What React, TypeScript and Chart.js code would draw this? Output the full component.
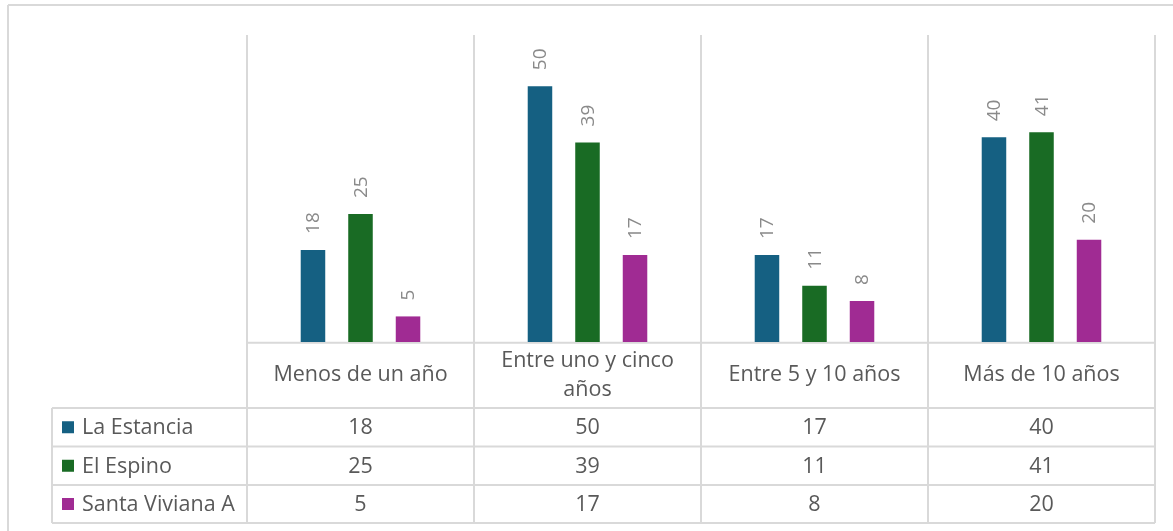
import React, { useEffect, useRef } from "react";
import { Chart, registerables } from "chart.js";

Chart.register(...registerables);

const categories = ["Menos de un año", "Entre uno y cinco años", "Entre 5 y 10 años", "Más de 10 años"];
const seriesNames = ["La Estancia", "El Espino", "Santa Viviana A"];
const laEstancia = [18, 50, 17, 40];
const elEspino = [25, 39, 11, 41];
const santaViviana = [5, 17, 8, 20];
const seriesColors = ["#156082", "#196B24", "#A02B93"];
const yMin = 0;
const yMax = 60;

const W = 1173;
const H = 531;
const FONT = "'Open Sans', 'Noto Sans', sans-serif";
const GRID = "#d9d9d9";
const TEXT = "#595959";
const LABEL = "#8a8a8a";

// table layout (pixels)
const headerBottom = 408;
const rowBottoms = [446.5, 485, 523];
const legendLeft = 52;

function wrapText(ctx: CanvasRenderingContext2D, text: string, maxWidth: number): string[] {
  const words = text.split(" ");
  const lines: string[] = [];
  let cur = "";
  for (const w of words) {
    const test = cur ? cur + " " + w : w;
    if (ctx.measureText(test).width > maxWidth && cur) {
      lines.push(cur);
      cur = w;
    } else {
      cur = test;
    }
  }
  if (cur) lines.push(cur);
  return lines;
}

const tablePlugin = {
  id: "tablePlugin",
  beforeDatasetsDraw(chart: any) {
    const ctx: CanvasRenderingContext2D = chart.ctx;
    const area = chart.chartArea;
    const xs = chart.scales.x;
    const n = categories.length;
    const colW = (area.right - area.left) / n;
    const tableBottom = rowBottoms[rowBottoms.length - 1];
    ctx.save();
    ctx.strokeStyle = GRID;
    ctx.lineWidth = 2;
    // outer frame
    ctx.beginPath();
    ctx.moveTo(8, 5);
    ctx.lineTo(W, 5);
    ctx.moveTo(8, 5);
    ctx.lineTo(8, H);
    ctx.stroke();
    // vertical lines at category boundaries
    ctx.beginPath();
    for (let i = 0; i <= n; i++) {
      const x = i < n ? xs.getPixelForValue(i) - colW / 2 : xs.getPixelForValue(n - 1) + colW / 2;
      ctx.moveTo(x, area.top);
      ctx.lineTo(x, tableBottom);
    }
    // legend column left edge
    ctx.moveTo(legendLeft, headerBottom);
    ctx.lineTo(legendLeft, tableBottom);
    // horizontal lines
    ctx.moveTo(area.left, area.bottom + 0.7);
    ctx.lineTo(area.right, area.bottom + 0.7);
    for (const y of [headerBottom, ...rowBottoms]) {
      ctx.moveTo(legendLeft, y);
      ctx.lineTo(area.right, y);
    }
    ctx.stroke();

    // header labels
    ctx.fillStyle = TEXT;
    ctx.font = `21.5px ${FONT}`;
    ctx.textAlign = "center";
    ctx.textBaseline = "middle";
    const headerTop = area.bottom;
    const headerMid = (headerTop + headerBottom) / 2;
    const lineH = 29;
    categories.forEach((c, i) => {
      const cx = xs.getPixelForValue(i);
      const lines = wrapText(ctx, c, colW - 40);
      const startY = headerMid - ((lines.length - 1) * lineH) / 2;
      lines.forEach((l, k) => ctx.fillText(l, cx, startY + k * lineH));
    });

    // data rows
    const tops = [headerBottom, ...rowBottoms];
    chart.data.datasets.forEach((ds: any, r: number) => {
      const cy = (tops[r] + tops[r + 1]) / 2;
      ctx.textAlign = "center";
      ctx.fillStyle = TEXT;
      ds.data.forEach((v: number, i: number) => {
        ctx.fillText(String(v), xs.getPixelForValue(i), cy + 1);
      });
      // legend key
      ctx.fillStyle = ds.backgroundColor;
      ctx.fillRect(62, cy - 6, 12, 12);
      ctx.fillStyle = TEXT;
      ctx.textAlign = "left";
      ctx.fillText(ds.label, 82, cy + 1);
    });
    ctx.restore();
  },
  afterDatasetsDraw(chart: any) {
    const ctx: CanvasRenderingContext2D = chart.ctx;
    ctx.save();
    ctx.fillStyle = LABEL;
    ctx.font = `19px ${FONT}`;
    ctx.textAlign = "left";
    ctx.textBaseline = "middle";
    chart.data.datasets.forEach((ds: any, d: number) => {
      const meta = chart.getDatasetMeta(d);
      meta.data.forEach((bar: any, i: number) => {
        ctx.save();
        ctx.translate(bar.x + 1, bar.y - 16);
        ctx.rotate(-Math.PI / 2);
        ctx.fillText(String(ds.data[i]), 0, 0);
        ctx.restore();
      });
    });
    ctx.restore();
  },
};

export default function App() {
  const ref = useRef<HTMLCanvasElement | null>(null);
  useEffect(() => {
    if (!ref.current) return;
    const values = [laEstancia, elEspino, santaViviana];
    const chart = new Chart(ref.current, {
      type: "bar",
      data: {
        labels: categories,
        datasets: seriesNames.map((name, i) => ({
          label: name,
          data: values[i],
          backgroundColor: seriesColors[i],
          borderWidth: 0,
          categoryPercentage: 0.628,
          barPercentage: 0.516,
        })),
      },
      options: {
        responsive: false,
        animation: false,
        layout: { padding: { left: 247, right: 18, top: 35, bottom: 189 } },
        scales: {
          x: { display: false },
          y: { display: false, min: yMin, max: yMax },
        },
        plugins: { legend: { display: false }, tooltip: { enabled: false } },
      },
      plugins: [tablePlugin],
    });
    return () => chart.destroy();
  }, []);
  return (
    <div style={{ position: "absolute", left: 0, top: 0, width: W, height: H, background: "#fff" }}>
      <canvas ref={ref} width={W} height={H} style={{ display: "block" }} />
    </div>
  );
}
